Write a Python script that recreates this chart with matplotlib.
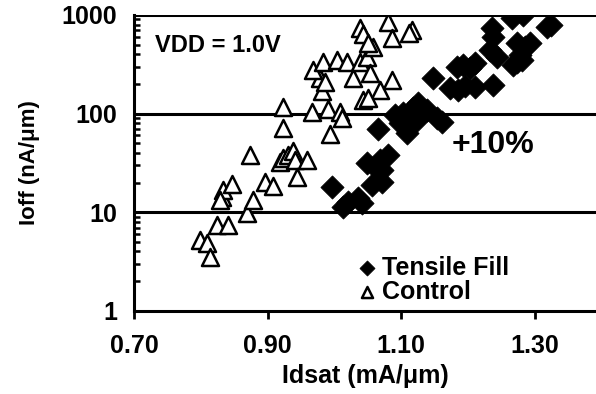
"""
Ioff vs Idsat scatter, Tensile Fill vs Control (VDD = 1.0V)
"""

import matplotlib
matplotlib.use('Agg')
import matplotlib.pyplot as plt
import matplotlib.ticker as ticker

plt.rcParams['font.family'] = ['Liberation Sans', 'DejaVu Sans']
plt.rcParams['font.weight'] = 'bold'

# Control devices (open triangles)
control_idsat = [0.799, 0.809, 0.814, 0.824, 0.841, 0.832, 0.833, 0.829, 0.847,
                 0.869, 0.878, 0.874, 0.896, 0.908, 0.919, 0.923, 0.931, 0.938,
                 0.941, 0.959, 0.944, 0.923, 0.923, 0.967, 0.994, 0.991, 1.009,
                 1.012, 0.982, 0.979, 0.968, 0.983, 1.004, 1.019, 1.028, 1.039,
                 1.049, 1.058, 1.043, 1.069, 1.087, 1.054, 1.039, 1.043, 1.051,
                 1.081, 1.087, 1.117, 1.112, 0.986, 1.051]
control_ioff = [5.2, 4.9, 3.5, 7.4, 7.4, 14.3, 16.8, 13.3, 19.4,
                9.8, 13.3, 38.1, 20.3, 18.5, 32.3, 35.5, 38.1, 41.8,
                33.9, 33.9, 22.8, 71.5, 117, 104, 62, 111, 104,
                90, 169, 230, 277, 333, 349, 333, 230, 333,
                374, 473, 137, 173, 219, 258, 737, 640, 519,
                847, 583, 703, 656, 209, 144]

# Tensile fill devices (filled diamonds)
tensile_idsat = [0.997, 1.013, 1.021, 1.036, 1.042, 1.057, 1.072, 1.049, 1.061,
                 1.072, 1.081, 1.069, 1.066, 1.091, 1.099, 1.103, 1.109, 1.114,
                 1.118, 1.124, 1.126, 1.139, 1.154, 1.161, 1.148, 1.173, 1.185,
                 1.196, 1.211, 1.238, 1.184, 1.193, 1.203, 1.211, 1.233, 1.238,
                 1.236, 1.244, 1.266, 1.283, 1.274, 1.286, 1.293, 1.278, 1.274,
                 1.268, 1.281, 1.319, 1.325]
tensile_ioff = [18.0, 11.3, 12.7, 14.0, 12.4, 18.9, 20.3, 31.6, 28.8,
                26.8, 38.1, 33.9, 69.8, 96.8, 80.3, 101, 63.6, 76.6,
                114, 86.1, 128, 109, 90.2, 82.2, 230, 182, 173,
                190, 186, 195, 297, 311, 290, 326, 441, 597,
                737, 374, 930, 997, 519, 473, 519, 392, 333,
                311, 349, 754, 790]

x_ticks = [0.70, 0.90, 1.10, 1.30]
y_ticks = [1, 10, 100, 1000]

fig = plt.figure(figsize=(5.96, 3.94), dpi=100)
ax = fig.add_axes([0.225, 0.211, 0.775, 0.751])

# gridlines at each decade
for yv in y_ticks[1:]:
    ax.axhline(yv, color='black', lw=2.2, zorder=1)

ax.scatter(tensile_idsat, tensile_ioff, marker='D', s=140, c='black',
           edgecolors='black', linewidths=0.5, zorder=3, label='Tensile Fill')
ax.scatter(control_idsat, control_ioff, marker='^', s=150, facecolors='white',
           edgecolors='black', linewidths=1.8, zorder=2, label='Control')

ax.set_yscale('log')
ax.set_ylim(1, 1000)
ax.set_xlim(0.70, 1.392)
ax.set_xticks(x_ticks)
ax.xaxis.set_major_formatter(ticker.FormatStrFormatter('%.2f'))
ax.set_yticks(y_ticks)
ax.yaxis.set_major_formatter(ticker.FuncFormatter(lambda v, p: f'{v:g}'))
ax.yaxis.set_minor_locator(ticker.LogLocator(base=10, subs=range(2, 10)))
ax.yaxis.set_minor_formatter(ticker.NullFormatter())

for side in ['top', 'right']:
    ax.spines[side].set_visible(False)
for side in ['left', 'bottom']:
    ax.spines[side].set_linewidth(2.2)

ax.tick_params(axis='x', direction='out', length=6, width=2, labelsize=18, pad=11)
ax.tick_params(axis='y', which='major', length=0, labelsize=18, pad=12)
ax.tick_params(axis='y', which='minor', direction='in', length=4, width=1.8)

ax.set_xlabel('Idsat (mA/\u03bcm)', fontsize=18, fontweight='bold', labelpad=4)
ax.set_ylabel('Ioff (nA/\u03bcm)', fontsize=16, fontweight='bold', labelpad=16)

ax.text(0.731, 496, 'VDD = 1.0V', fontsize=17, fontweight='bold', va='center')
ax.text(1.175, 48, '+10%', fontsize=23, fontweight='bold', va='center')

ax.legend(loc='lower left', bbox_to_anchor=(0.455, -0.01), frameon=False,
          handletextpad=0.1, labelspacing=0.0, borderaxespad=0,
          handlelength=1.0, markerscale=0.65, prop={'weight': 'bold', 'size': 18})

fig.savefig('out.png', dpi=100)
